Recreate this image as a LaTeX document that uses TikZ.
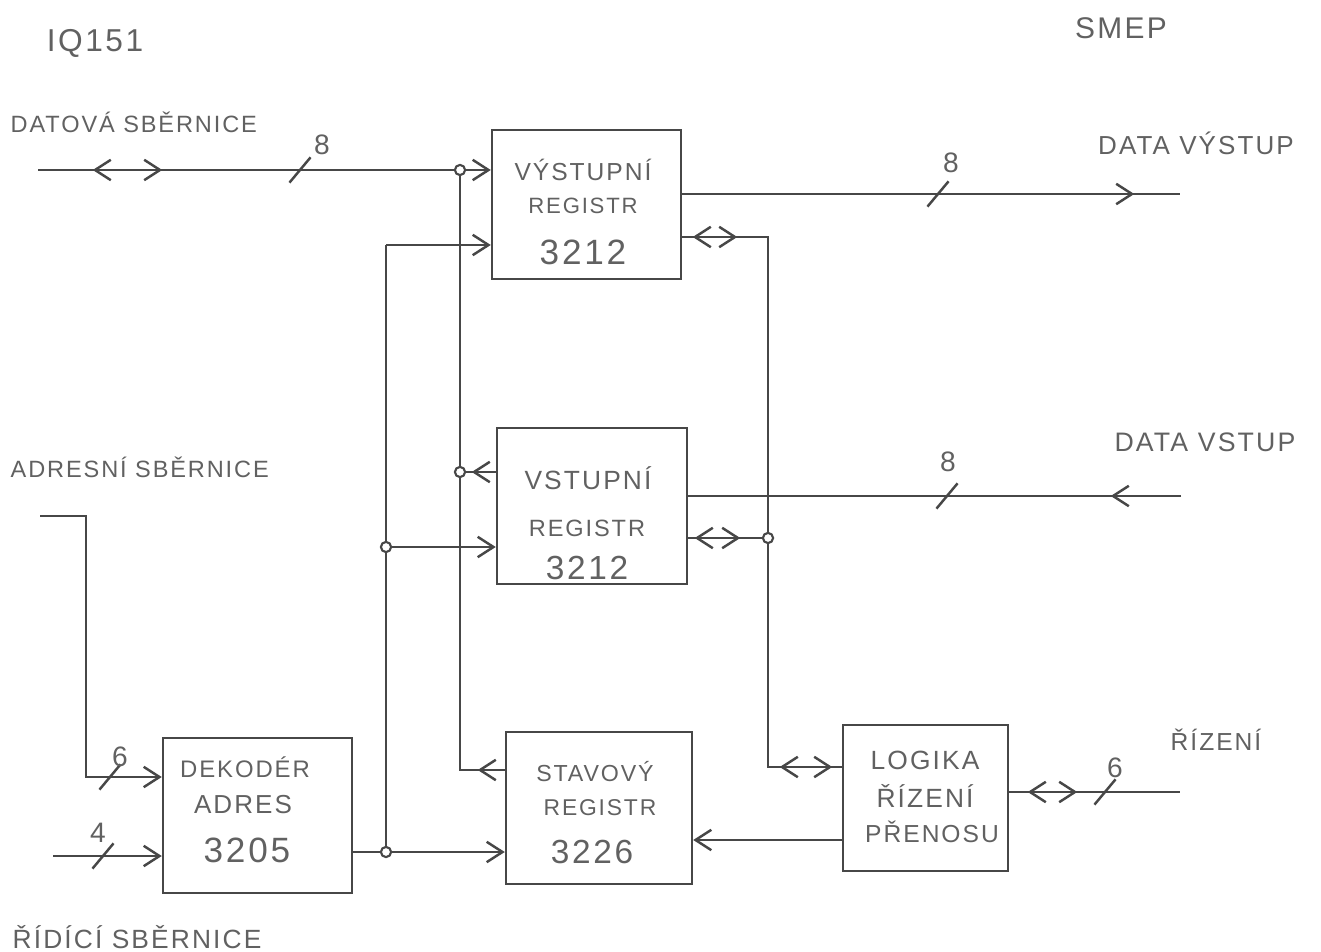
\documentclass[tikz,border=0pt]{standalone}
\usepackage{fontspec}
\setmainfont{Liberation Sans}
\newfontfamily\hand[LetterSpace=8]{Liberation Sans}
\usetikzlibrary{arrows.meta,fit,calc}
\begin{document}
\begin{tikzpicture}[x=0.01cm,y=-0.01cm,
  ln/.style={draw=black!72, line width=0.7pt},
  blk/.style={draw=black!72, line width=0.7pt, inner sep=0pt},
  lbl/.style={text=black!62, inner sep=0pt, font=\hand\fontsize{#1}{#1}\selectfont},
  lbl/.default=7,
  dot/.style={circle, draw=black!72, fill=white, inner sep=0pt, minimum size=2.9pt, line width=0.6pt},
  >={Straight Barb[length=4.5pt,width=5.8pt]},
  tipR/.pic={\draw[ln] (-4.5pt,2.9pt) -- (0,0) -- (-4.5pt,-2.9pt);},
  tipL/.pic={\draw[ln] (4.5pt,2.9pt) -- (0,0) -- (4.5pt,-2.9pt);},
  slash/.pic={\draw[ln] (-3pt,-3.6pt) -- (3pt,3.6pt);}
]
\useasboundingbox (0,0) rectangle (1321,952);

% ---------- headings ----------
\node[lbl=9] (iq) at (95,43) {IQ151};
\node[lbl=8.5] (smep) at (1121,28) {SMEP};
\node[lbl=6.7, anchor=west] (datbus) at (10,122) {DATOVÁ SBĚRNICE};
\node[lbl=7.4] (dout) at (1196,143) {DATA VÝSTUP};
\node[lbl=7.6] (din) at (1205,442) {DATA VSTUP};
\node[lbl=6.7, anchor=west] (adrbus) at (10,467) {ADRESNÍ SBĚRNICE};
\node[lbl=7.5, anchor=west] (ridbus) at (12,937) {ŘÍDÍCÍ SBĚRNICE};
\node[lbl=7, anchor=west] (rizeni) at (1170,740) {ŘÍZENÍ};

% ---------- blocks ----------
\node[blk, fit={(492,130) (681,279)}] (vy) {};
\node[blk, fit={(497,428) (687,584)}] (vs) {};
\node[blk, fit={(163,738) (352,893)}] (dk) {};
\node[blk, fit={(506,732) (692,884)}] (st) {};
\node[blk, fit={(843,725) (1008,871)}] (lg) {};

\node[lbl=7]   (vyA) at (583,170) {VÝSTUPNÍ};
\node[lbl=6.3] (vyB) at (583,206) {REGISTR};
\node[lbl=10]  (vyC) at (583,252) {3212};

\node[lbl=7.5] (vsA) at (588,478) {VSTUPNÍ};
\node[lbl=6.7] (vsB) at (587,528) {REGISTR};
\node[lbl=9.5] (vsC) at (587,568) {3212};

\node[lbl=6.8] (dkA) at (245,767) {DEKODÉR};
\node[lbl=7.4] (dkB) at (243,805) {ADRES};
\node[lbl=10]  (dkC) at (247,850) {3205};

\node[lbl=6.6] (stA) at (595,772) {STAVOVÝ};
\node[lbl=6.5] (stB) at (600,808) {REGISTR};
\node[lbl=9.5] (stC) at (592,852) {3226};

\node[lbl=7.5] (lgA) at (925,760) {LOGIKA};
\node[lbl=7.5] (lgB) at (925,796) {ŘÍZENÍ};
\node[lbl=7]   (lgC) at (932,832) {PŘENOSU};

% ---------- data bus ----------
\coordinate (dbL) at (38,170);
\coordinate (j1) at (460,170);
\draw[ln,->] (dbL) -- (dbL -| vy.west);
\pic at (95,170) {tipL};
\pic at (160,170) {tipR};
\pic at (300,170) {slash};
\node[lbl=8] (n8a) at (322,145) {8};

\coordinate (c1) at (460,770);
\draw[ln] (j1) -- (c1) -- (c1 -| st.west);
\pic at (480,770) {tipL};
\coordinate (j2) at (460,472);
\draw[ln] (j2 -| vs.west) -- (j2);
\pic at (474,472) {tipL};

% ---------- select line from decoder ----------
\coordinate (c2) at (386,245);
\coordinate (j3) at (386,547);
\coordinate (j4) at (386,852);
\draw[ln] (c2) -- (j4);
\draw[ln,->] (c2) -- (c2 -| vy.west);
\draw[ln,->] (j3) -- (j3 -| vs.west);
\draw[ln,->] (j4 -| dk.east) -- (j4 -| st.west);

% ---------- data output ----------
\coordinate (doR) at (1180,194);
\draw[ln] (doR -| vy.east) -- (doR);
\pic at (1132,194) {tipR};
\pic at (938,194) {slash};
\node[lbl=8] (n8b) at (951,163) {8};

% ---------- handshake lines ----------
\coordinate (c3) at (768,237);
\coordinate (j5) at (768,538);
\coordinate (c4) at (768,767);
\draw[ln] (c3 -| vy.east) -- (c3) -- (c4) -- (c4 -| lg.west);
\pic at (695,237) {tipL};
\pic at (735,237) {tipR};
\draw[ln] (j5 -| vs.east) -- (j5);
\pic at (697,538) {tipL};
\pic at (738,538) {tipR};
\pic at (782,767) {tipL};
\pic at (830,767) {tipR};

% ---------- data input ----------
\coordinate (diR) at (1181,496);
\draw[ln] (diR) -- (diR -| vs.east);
\pic at (1113,496) {tipL};
\pic at (947,496) {slash};
\node[lbl=8] (n8c) at (948,462) {8};

% ---------- address bus ----------
\coordinate (a0) at (40,516);
\coordinate (a1) at (86,516);
\coordinate (a2) at (86,777);
\draw[ln,->] (a0) -- (a1) -- (a2) -- (a2 -| dk.west);
\pic at (110,777) {slash};
\node[lbl=8] (n6a) at (120,757) {6};

% ---------- control bus ----------
\coordinate (b0) at (53,856);
\draw[ln,->] (b0) -- (b0 -| dk.west);
\pic at (103,856) {slash};
\node[lbl=8] (n4) at (98,833) {4};

% ---------- logic -> status ----------
\coordinate (c5) at (800,840);
\draw[ln,->] (c5 -| lg.west) -- (c5 -| st.east);

% ---------- control out ----------
\coordinate (rR) at (1180,792);
\draw[ln] (rR -| lg.east) -- (rR);
\pic at (1030,792) {tipL};
\pic at (1075,792) {tipR};
\pic at (1105,792) {slash};
\node[lbl=8] (n6b) at (1115,768) {6};

% ---------- junction dots ----------
\node[dot] (d1) at (j1) {};
\node[dot] (d2) at (j2) {};
\node[dot] (d3) at (j3) {};
\node[dot] (d4) at (j4) {};
\node[dot] (d5) at (j5) {};
\end{tikzpicture}
\end{document}
